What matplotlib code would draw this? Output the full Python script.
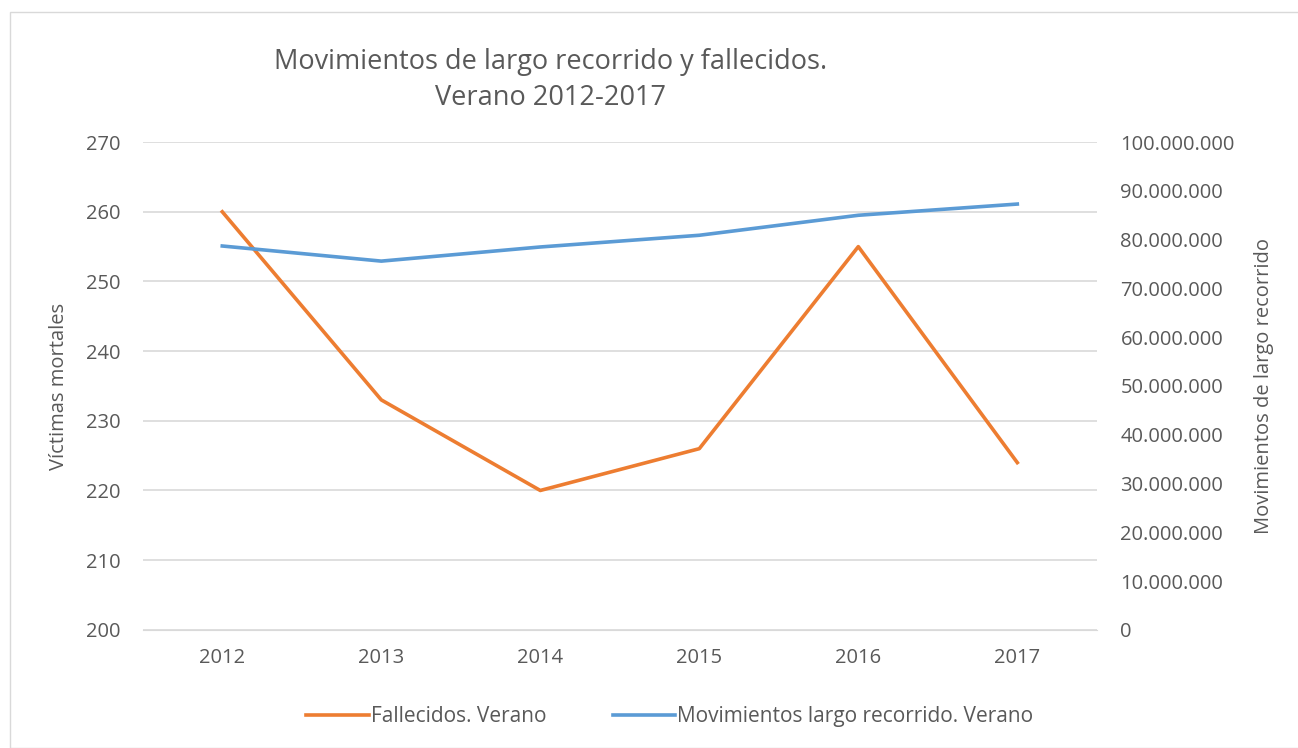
import matplotlib.pyplot as plt
from matplotlib.patches import Rectangle
from matplotlib.ticker import FuncFormatter

years = ["2012", "2013", "2014", "2015", "2016", "2017"]
fallecidos = [260, 233, 220, 226, 255, 224]
movimientos = [78700000, 75600000, 78500000, 80900000, 85000000, 87300000]

orange = "#ED7D31"
blue = "#5B9BD5"
txt = "#595959"
grid = "#D9D9D9"

plt.rcParams["font.family"] = ["Open Sans", "DejaVu Sans"]

fig = plt.figure(figsize=(12.98, 7.48), dpi=100)
fig.patches.append(Rectangle((10 / 1298, 0.0), 1.0, 1 - 12 / 748, transform=fig.transFigure,
                             fill=False, edgecolor=grid, linewidth=1))

ax = fig.add_axes([0.110, 0.158, 0.735, 0.652])
ax2 = ax.twinx()

x = range(len(years))
l1, = ax.plot(x, fallecidos, color=orange, linewidth=2.6, label="Fallecidos. Verano")
l2, = ax2.plot(x, movimientos, color=blue, linewidth=2.6, label="Movimientos largo recorrido. Verano")

ax.set_xlim(-0.5, 5.5)
ax.set_ylim(200, 270)
ax.set_yticks(range(200, 271, 10))
ax2.set_ylim(0, 100000000)
ax2.set_yticks(range(0, 100000001, 10000000))
ax2.yaxis.set_major_formatter(FuncFormatter(lambda v, p: f"{int(v):,}".replace(",", ".")))
ax.set_xticks(list(x))
ax.set_xticklabels(years)

ax.grid(axis="y", color=grid, linewidth=1.2)
ax.set_axisbelow(True)
for a in (ax, ax2):
    for s in a.spines.values():
        s.set_visible(False)
    a.tick_params(length=0, labelsize=14.5, colors=txt)
ax.spines["bottom"].set_visible(True)
ax.spines["bottom"].set_color(grid)
ax.tick_params(axis="y", pad=16)
ax.tick_params(axis="x", pad=13)
ax2.tick_params(axis="y", pad=17)

ax.set_ylabel("Víctimas mortales", fontsize=14.5, color=txt, labelpad=12)
ax2.set_ylabel("Movimientos de largo recorrido", fontsize=14.5, color=txt, labelpad=14)

fig.text(0.424, 0.893, "Movimientos de largo recorrido y fallecidos.\nVerano 2012-2017",
         ha="center", va="center", fontsize=19.5, color=txt, linespacing=1.4)

fig.legend(handles=[l1, l2], loc="center", bbox_to_anchor=(0.516, 0.042), ncol=2,
           frameon=False, fontsize=15, labelcolor=txt, handlelength=3.0,
           handletextpad=0.1, columnspacing=3.2)

fig.savefig("out.png", dpi=100, facecolor="white")
